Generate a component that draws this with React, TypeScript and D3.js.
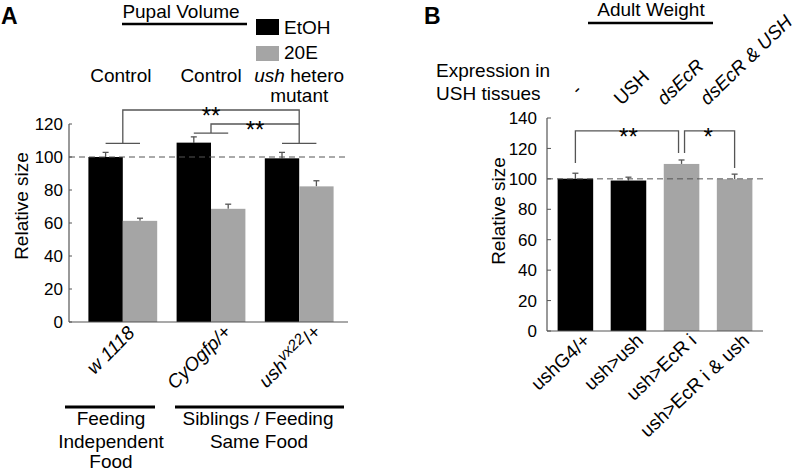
import React from "react";
import * as d3 from "d3";

// ---------- Panel A data ----------
const groupsA = ["w1118", "CyOgfp/+", "ushvx22/+"];
const treatmentsA = ["EtOH", "20E"];
const etohA = [100, 108.7, 99.2];
const etohErrA = [2.8, 3.5, 3.6];
const e20A = [61.3, 68.6, 82.2];
const e20ErrA = [1.6, 2.8, 3.4];
const ticksA = [0, 20, 40, 60, 80, 100, 120];

// ---------- Panel B data ----------
const genotypesB = ["ushG4/+", "ush>ush", "ush>EcR i", "ush>EcR i & ush"];
const expressionB = ["-", "USH", "dsEcR", "dsEcR & USH"];
const expressionItalicB = [false, false, true, true];
const barTypeB = ["no dsEcR", "no dsEcR", "dsEcR", "dsEcR"];
const weightB = [100.1, 98.9, 109.8, 99.8];
const weightErrB = [3.6, 2.2, 2.6, 3.3];
const ticksB = [0, 20, 40, 60, 80, 100, 120, 140];

const FONT = "'Liberation Sans', Arial, Helvetica, sans-serif";
const BLACK = "#000000";
const GRAY = "#a5a5a5";
const LINE = "#555555";

export default function App() {
  // Panel A scales
  const yA = d3.scaleLinear().domain([0, 120]).range([322, 124]);
  const xA = d3.scaleBand<string>().domain(groupsA).range([69, 353]).padding(0.22);
  const subA = d3.scaleBand<string>().domain(treatmentsA).range([0, xA.bandwidth()]);
  const colorA = d3.scaleOrdinal<string, string>().domain(treatmentsA).range([BLACK, GRAY]);
  const valsA = [etohA, e20A];
  const errsA = [etohErrA, e20ErrA];
  const cA = (g: string) => (xA(g) as number) + xA.bandwidth() / 2;
  const barC = (g: string, t: string) => (xA(g) as number) + (subA(t) as number) + subA.bandwidth() / 2;

  // Panel B scales
  const yB = d3.scaleLinear().domain([0, 140]).range([331, 118]);
  const xB = d3.scaleBand<string>().domain(genotypesB).range([547, 763]).paddingInner(0.33).paddingOuter(0.2);
  const colorB = d3.scaleOrdinal<string, string>().domain(["no dsEcR", "dsEcR"]).range([BLACK, GRAY]);
  const cB = (i: number) => (xB(genotypesB[i]) as number) + xB.bandwidth() / 2;

  const footA = (g: string, level: number) => {
    const y = yA(level);
    return <line x1={barC(g, "EtOH")} x2={barC(g, "20E")} y1={y} y2={y} stroke={LINE} strokeWidth={1.3} />;
  };

  const ytop1 = yA(128.5);
  const yfoot1 = yA(108.3);
  const ytop2 = yA(120);
  const yfoot2 = yA(114.5);
  const bTop = yB(131.6);

  return (
    <svg width={798} height={472} style={{ position: "absolute", left: 0, top: 0, background: "#fff" }} fontFamily={FONT}>
      <rect width={798} height={472} fill="#fff" />
      {/* ================= PANEL A ================= */}
      <text x={1} y={24} fontSize={23} fontWeight="bold">A</text>
      <text x={181} y={18} fontSize={19} textAnchor="middle">Pupal Volume</text>
      <line x1={122} x2={247} y1={24} y2={24} stroke="#000" strokeWidth={2.5} />
      {treatmentsA.map((t, i) => (
        <g key={t}>
          <rect x={256} y={19 + i * 27} width={23} height={16 - i} fill={colorA(t)} />
          <text x={284} y={34 + i * 25} fontSize={19}>{t}</text>
        </g>
      ))}
      <text x={cA(groupsA[0]) - 2} y={82} fontSize={19} textAnchor="middle">Control</text>
      <text x={cA(groupsA[1])} y={82} fontSize={19} textAnchor="middle">Control</text>
      <text x={cA(groupsA[2])} y={82} fontSize={19} textAnchor="middle">
        <tspan fontStyle="italic">ush</tspan> hetero
      </text>
      <text x={cA(groupsA[2])} y={102} fontSize={19} textAnchor="middle">mutant</text>

      {footA(groupsA[0], 108.3)}
      {footA(groupsA[2], 108.3)}
      {footA(groupsA[1], 114.5)}
      <path d={`M${cA(groupsA[0])},${yfoot1}V${ytop1}H${cA(groupsA[2])}V${yfoot1}`} fill="none" stroke={LINE} strokeWidth={1.3} />
      <path d={`M${cA(groupsA[1])},${yfoot2}V${ytop2}H${cA(groupsA[2])}`} fill="none" stroke={LINE} strokeWidth={1.3} />
      <text x={(cA(groupsA[0]) + cA(groupsA[2])) / 2} y={ytop1 + 14} fontSize={24} textAnchor="middle">**</text>
      <text x={(cA(groupsA[1]) + cA(groupsA[2])) / 2} y={ytop2 + 14} fontSize={24} textAnchor="middle">**</text>

      {groupsA.map((g, gi) =>
        treatmentsA.map((t, ti) => {
          const v = valsA[ti][gi];
          const e = errsA[ti][gi];
          const x = (xA(g) as number) + (subA(t) as number);
          const cx = x + subA.bandwidth() / 2;
          return (
            <g key={g + t}>
              <line x1={cx} x2={cx} y1={yA(v)} y2={yA(v + e)} stroke={LINE} strokeWidth={1.3} />
              <line x1={cx - 3} x2={cx + 3} y1={yA(v + e)} y2={yA(v + e)} stroke={LINE} strokeWidth={1.3} />
              <rect x={x} y={yA(v)} width={subA.bandwidth()} height={yA(0) - yA(v)} fill={colorA(t)} />
            </g>
          );
        })
      )}
      <line x1={69} x2={348} y1={yA(100)} y2={yA(100)} stroke={LINE} strokeWidth={1} strokeDasharray="6,4" />
      <line x1={69} x2={69} y1={yA(0)} y2={yA(120)} stroke={LINE} strokeWidth={1.2} />
      <line x1={69} x2={348} y1={yA(0)} y2={yA(0)} stroke={LINE} strokeWidth={1.2} />
      {ticksA.map((t) => (
        <g key={t}>
          <line x1={69} x2={72} y1={yA(t)} y2={yA(t)} stroke={LINE} strokeWidth={1} />
          <text x={63} y={yA(t)} dy="0.36em" fontSize={17} textAnchor="end">{t}</text>
        </g>
      ))}
      <text transform="translate(28,206) rotate(-90)" fontSize={19} textAnchor="middle">Relative size</text>

      <text transform={`translate(${cA(groupsA[0]) + 13},334) rotate(-45)`} fontSize={19} fontStyle="italic" textAnchor="end">w 1118</text>
      <text transform={`translate(${cA(groupsA[1]) + 21},333) rotate(-45)`} fontSize={19} fontStyle="italic" textAnchor="end">CyOgfp/+</text>
      <text transform={`translate(${cA(groupsA[2]) + 23},333) rotate(-45)`} fontSize={19} textAnchor="end">
        <tspan fontStyle="italic">ush</tspan>
        <tspan fontStyle="italic" fontSize={15} dy={-7}>vx22</tspan>
        <tspan dy={7}>/+</tspan>
      </text>

      <line x1={65} x2={155} y1={407} y2={407} stroke="#000" strokeWidth={3} />
      <line x1={175} x2={344} y1={407} y2={407} stroke="#000" strokeWidth={3} />
      <text x={111} y={425} fontSize={19} textAnchor="middle">Feeding</text>
      <text x={111} y={448} fontSize={19} textAnchor="middle">Independent</text>
      <text x={111} y={468} fontSize={19} textAnchor="middle">Food</text>
      <text x={258} y={425} fontSize={19} textAnchor="middle">Siblings / Feeding</text>
      <text x={259} y={448} fontSize={19} textAnchor="middle">Same Food</text>

      {/* ================= PANEL B ================= */}
      <text x={424} y={24} fontSize={23} fontWeight="bold">B</text>
      <text x={651} y={16} fontSize={19} textAnchor="middle">Adult Weight</text>
      <line x1={588} x2={713} y1={23} y2={23} stroke="#000" strokeWidth={2.5} />
      <text x={436} y={77} fontSize={19}>Expression in</text>
      <text x={436} y={100} fontSize={19}>USH tissues</text>
      {expressionB.map((s, i) => (
        <g key={s} transform={`translate(${cB(i) + 3 - 10 * i},${i === 0 ? 96 : 106})`}>
          <text transform="rotate(-44)" fontSize={19} fontStyle={expressionItalicB[i] ? "italic" : "normal"}>
            {s}
          </text>
        </g>
      ))}

      <path d={`M${cB(0)},${yB(110.5)}V${bTop}H${cB(2) - 3}V${yB(117)}`} fill="none" stroke={LINE} strokeWidth={1.3} />
      <path d={`M${cB(2) + 3},${yB(117)}V${bTop}H${cB(3)}V${yB(107.2)}`} fill="none" stroke={LINE} strokeWidth={1.3} />
      <text x={(cB(0) + cB(2)) / 2} y={bTop + 14} fontSize={24} textAnchor="middle">**</text>
      <text x={(cB(2) + cB(3)) / 2} y={bTop + 14} fontSize={24} textAnchor="middle">*</text>

      {genotypesB.map((g, i) => {
        const v = weightB[i];
        const e = weightErrB[i];
        const x = xB(g) as number;
        const cx = cB(i);
        return (
          <g key={g}>
            <line x1={cx} x2={cx} y1={yB(v)} y2={yB(v + e)} stroke={LINE} strokeWidth={1.3} />
            <line x1={cx - 3} x2={cx + 3} y1={yB(v + e)} y2={yB(v + e)} stroke={LINE} strokeWidth={1.3} />
            <rect x={x} y={yB(v)} width={xB.bandwidth()} height={yB(0) - yB(v)} fill={colorB(barTypeB[i])} />
          </g>
        );
      })}
      <line x1={547} x2={763} y1={yB(100)} y2={yB(100)} stroke={LINE} strokeWidth={1} strokeDasharray="6,4" />
      <line x1={547} x2={547} y1={yB(0)} y2={yB(140)} stroke={LINE} strokeWidth={1.2} />
      <line x1={547} x2={763} y1={yB(0)} y2={yB(0)} stroke={LINE} strokeWidth={1.2} />
      {ticksB.map((t) => (
        <g key={t}>
          <line x1={547} x2={551} y1={yB(t)} y2={yB(t)} stroke={LINE} strokeWidth={1} />
          <text x={537} y={yB(t)} dy="0.36em" fontSize={17} textAnchor="end">{t}</text>
        </g>
      ))}
      <text transform="translate(505,211) rotate(-90)" fontSize={19} textAnchor="middle">Relative size</text>
      {genotypesB.map((g, i) => (
        <text key={g} transform={`translate(${cB(i) + 16},342) rotate(-43)`} fontSize={19} textAnchor="end">{g}</text>
      ))}
    </svg>
  );
}
